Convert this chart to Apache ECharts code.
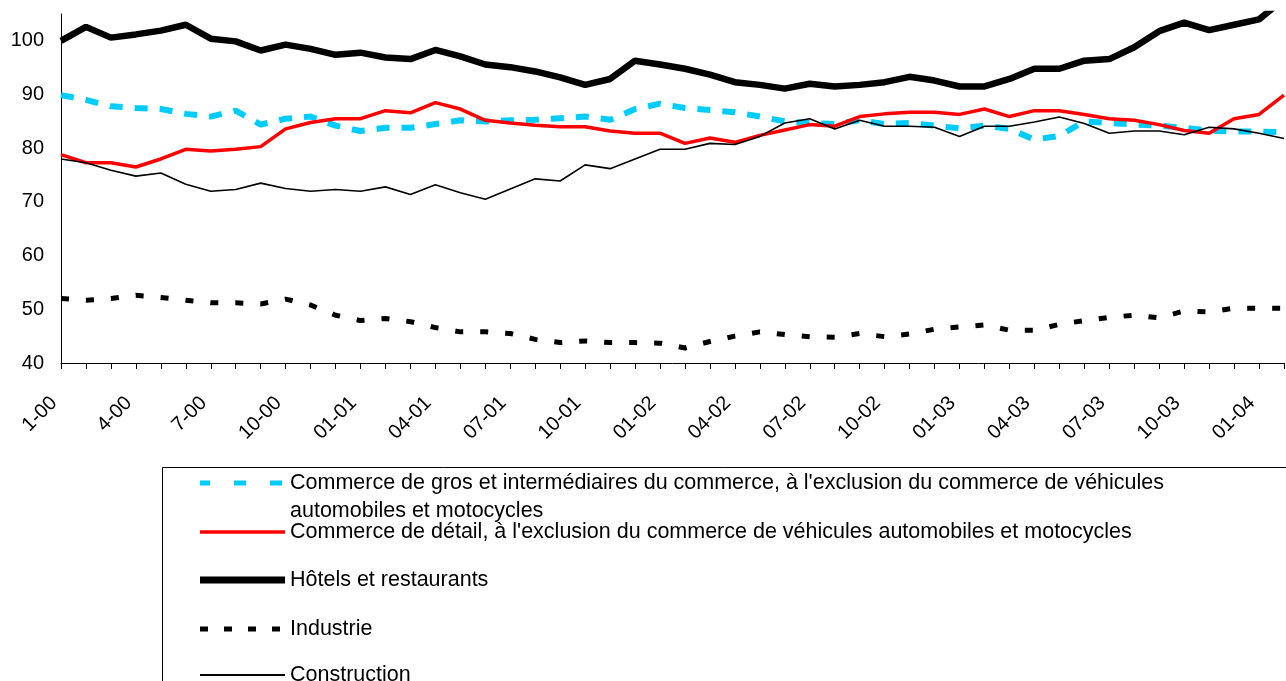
<!DOCTYPE html>
<html lang="fr">
<head>
<meta charset="UTF-8">
<title>Indices par secteur 2000-2004</title>
<script src="https://cdn.jsdelivr.net/npm/echarts@6/dist/echarts.min.js"></script>
<style>
  html, body { margin: 0; padding: 0; background: #fff; }
  #chart { width: 1286px; height: 681px; }
</style>
</head>
<body>
<div id="chart"></div>
<script>
// mois (étiquettes de l'axe X, une sur trois affichée)
const months = [
  '1-00', '2-00', '3-00', '4-00', '5-00', '6-00', '7-00', '8-00', '9-00', '10-00', '11-00', '12-00',
  '01-01', '02-01', '03-01', '04-01', '05-01', '06-01', '07-01', '08-01', '09-01', '10-01', '11-01', '12-01',
  '01-02', '02-02', '03-02', '04-02', '05-02', '06-02', '07-02', '08-02', '09-02', '10-02', '11-02', '12-02',
  '01-03', '02-03', '03-03', '04-03', '05-03', '06-03', '07-03', '08-03', '09-03', '10-03', '11-03', '12-03',
  '01-04', '02-04'
];

const seriesNames = [
  "Commerce de gros et intermédiaires du commerce, à l'exclusion du commerce de véhicules automobiles et motocycles",
  "Commerce de détail, à l'exclusion du commerce de véhicules automobiles et motocycles",
  'Hôtels et restaurants',
  'Industrie',
  'Construction'
];

const wholesale = [89.9, 89.0, 87.8, 87.5, 87.3, 86.4, 85.9, 87.0, 84.4, 85.5, 85.9, 84.2, 83.2, 83.8, 83.8,
  84.5, 85.2, 85.0, 85.2, 85.3, 85.6, 85.9, 85.3, 87.3, 88.3, 87.5, 87.1, 86.7, 85.9, 85.0, 84.7, 84.5,
  85.2, 84.5, 84.7, 84.2, 83.7, 84.2, 83.6, 81.6, 82.3, 85.0, 84.7, 84.4, 84.2, 83.8, 83.3, 83.1, 83.1, 83.0];

const retail = [78.8, 77.3, 77.3, 76.5, 78.0, 79.8, 79.5, 79.8, 80.3, 83.6, 84.8, 85.5, 85.5, 87.0, 86.6,
  88.5, 87.3, 85.2, 84.7, 84.3, 84.0, 84.0, 83.2, 82.8, 82.8, 80.9, 81.9, 81.1, 82.4, 83.4, 84.4, 84.1,
  85.9, 86.4, 86.7, 86.7, 86.3, 87.3, 85.9, 87.0, 87.0, 86.3, 85.5, 85.2, 84.4, 83.3, 82.8, 85.5, 86.3, 89.9];

const hotels = [100.0, 102.6, 100.6, 101.2, 101.9, 103.0, 100.4, 99.9, 98.2, 99.3, 98.5, 97.4, 97.8, 96.9, 96.6,
  98.3, 97.1, 95.6, 95.1, 94.3, 93.2, 91.8, 92.9, 96.3, 95.6, 94.8, 93.7, 92.3, 91.8, 91.1, 92.0, 91.5,
  91.8, 92.3, 93.3, 92.6, 91.5, 91.5, 92.9, 94.8, 94.8, 96.3, 96.6, 98.8, 101.8, 103.4, 102.0, 103.0, 104.0, 107.8];

const industry = [52.0, 51.7, 52.0, 52.6, 52.2, 51.7, 51.2, 51.2, 51.0, 51.9, 50.8, 48.9, 47.9, 48.3, 47.7,
  46.6, 45.8, 45.8, 45.5, 44.4, 43.8, 44.1, 43.8, 43.8, 43.7, 42.8, 44.0, 45.0, 45.8, 45.3, 44.9, 44.8,
  45.5, 44.9, 45.4, 46.3, 46.7, 47.1, 46.1, 46.1, 47.2, 47.9, 48.5, 48.9, 48.4, 49.7, 49.5, 50.2, 50.2, 50.2];

const construction = [78.0, 77.3, 75.9, 74.8, 75.4, 73.3, 72.0, 72.3, 73.5, 72.5, 72.0, 72.3, 72.0, 72.8, 71.4,
  73.2, 71.7, 70.5, 72.4, 74.3, 73.9, 76.9, 76.2, 78.0, 79.8, 79.8, 80.9, 80.7, 82.2, 84.7, 85.5, 83.6,
  85.2, 84.1, 84.1, 83.9, 82.2, 84.1, 84.1, 84.9, 85.8, 84.6, 82.8, 83.2, 83.2, 82.5, 83.9, 83.6, 82.8, 81.8];

const yMin = 40, yMax = 105, yStep = 10;

const FONT = 'Arial, "Liberation Sans", sans-serif';

const values = [wholesale, retail, hotels, industry, construction];
const lineStyles = [
  { color: '#00CCFF', width: 6, type: [13, 12] },
  { color: '#FF0000', width: 3.5, type: 'solid' },
  { color: '#000000', width: 6.5, type: 'solid' },
  { color: '#000000', width: 5, type: [8, 17] },
  { color: '#000000', width: 1.6, type: 'solid' }
];
// échantillons de légende (le pointillé bleu y est plus espacé)
const legendLineTypes = [[12, 24], 'solid', 'solid', [8, 16], 'solid'];
const legendLineWidths = [5, 3.5, 7, 5, 2];

// une légende par ligne, pour placer chaque entrée comme dans l'original
const legendTops = [441, 521, 569, 618, 664];
const legends = seriesNames.map((name, i) => ({
  data: [name],
  orient: 'vertical',
  // le trait déborde de la moitié de son épaisseur à gauche
  left: 200 - legendLineWidths[i] / 2,
  top: legendTops[i],
  padding: 0,
  itemWidth: 85,
  itemHeight: 14,
  itemGap: 0,
  selectedMode: false,
  itemStyle: { opacity: 0 },
  lineStyle: {
    type: legendLineTypes[i],
    width: legendLineWidths[i],
    color: lineStyles[i].color,
    dashOffset: i === 0 ? 2 : 0
  },
  // première entrée sur deux lignes, la première ligne alignée sur le trait
  formatter: n => i === 0 ? ' \n' + n.replace(' de véhicules ', ' de véhicules\n') : n,
  textStyle: i === 0
    ? { fontFamily: FONT, fontSize: 21.5, color: '#000', lineHeight: 28 }
    : { fontFamily: FONT, fontSize: 21.5, color: '#000', lineHeight: 20 }
}));

const chart = echarts.init(document.getElementById('chart'));

chart.setOption({
  animation: false,
  backgroundColor: '#fff',
  grid: { left: 61, right: 2, top: 14, bottom: 318, containLabel: false },
  legend: legends,
  graphic: [{
    type: 'rect',
    shape: { x: 162.5, y: 467.5, width: 1300, height: 400 },
    style: { fill: 'none', stroke: '#000', lineWidth: 1 },
    z: -10
  }],
  xAxis: {
    type: 'category',
    data: months,
    boundaryGap: false,
    axisLine: { lineStyle: { color: '#000', width: 1 } },
    axisTick: { show: true, interval: 0, length: 6, lineStyle: { color: '#000' } },
    axisLabel: {
      interval: 2,
      rotate: 45,
      margin: 44,
      verticalAlign: 'bottom',
      fontFamily: FONT,
      fontSize: 20,
      color: '#000'
    },
    splitLine: { show: false }
  },
  yAxis: {
    type: 'value',
    min: yMin,
    max: yMax,
    interval: yStep,
    axisLine: { show: true, lineStyle: { color: '#000', width: 1 } },
    axisTick: { show: false },
    splitLine: { show: false },
    axisLabel: {
      margin: 17,
      fontFamily: FONT,
      fontSize: 20,
      color: '#000',
      formatter: v => (v % yStep === 0 ? String(v) : '')
    }
  },
  series: seriesNames.map((name, i) => ({
    name,
    type: 'line',
    data: values[i],
    symbol: 'none',
    smooth: false,
    clip: true,
    lineStyle: lineStyles[i],
    itemStyle: { color: lineStyles[i].color }
  }))
});
</script>
</body>
</html>
